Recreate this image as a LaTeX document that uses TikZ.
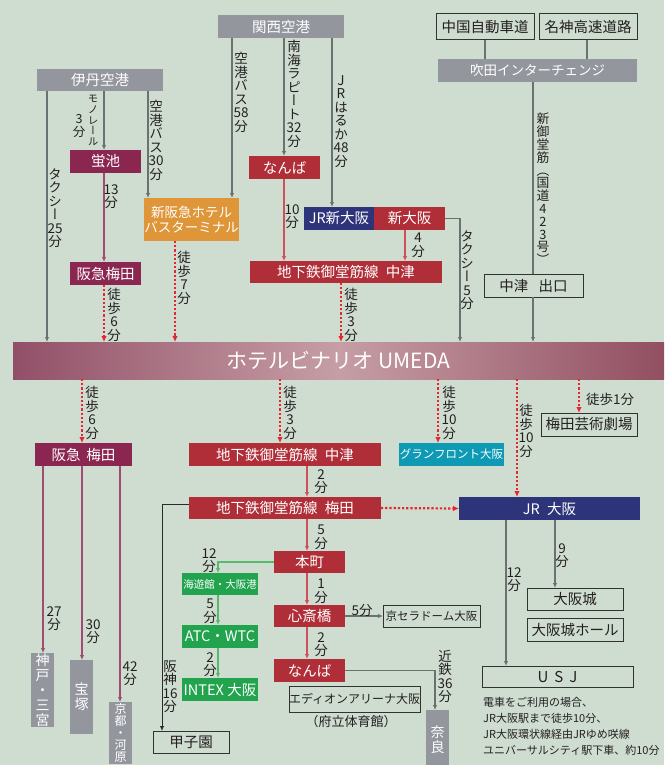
\documentclass[tikz,border=0pt]{standalone}
\usepackage{fontspec}
\setmainfont{Noto Sans CJK JP}
\newfontfamily\jp{Noto Sans CJK JP}
\newfontfamily\vjp[RawFeature=+vert]{Noto Sans CJK JP}
\usetikzlibrary{arrows.meta}
\definecolor{bgc}{RGB}{207,221,209}
\definecolor{cgray}{RGB}{148,150,158}
\definecolor{cmaroon}{RGB}{139,38,80}
\definecolor{cred}{RGB}{176,46,56}
\definecolor{cnavy}{RGB}{46,52,122}
\definecolor{corange}{RGB}{223,150,56}
\definecolor{cteal}{RGB}{14,153,181}
\definecolor{cgreen}{RGB}{34,164,78}
\definecolor{tcol}{RGB}{35,31,32}
\definecolor{ocol}{RGB}{50,50,50}
\definecolor{lgray}{RGB}{105,114,112}
\definecolor{lred}{RGB}{208,80,90}
\definecolor{lmaroon}{RGB}{160,76,112}
\definecolor{lgreen}{RGB}{90,184,110}
\definecolor{ldot}{RGB}{232,36,46}
\definecolor{bnl}{RGB}{146,80,104}
\definecolor{bnm}{RGB}{198,158,165}
\definecolor{bnr}{RGB}{146,79,98}
\newcommand\mkbox[7]{\node[#2,minimum width=#5pt,minimum height=#6pt,anchor=north west] (#1) at (#3,#4) {#7};}
\begin{document}
\begin{tikzpicture}[x=1pt,y=-1pt,
  bx/.style={inner sep=0pt,outer sep=0pt,text=white,align=center,font=\jp\fontsize{14.5}{16}\selectfont},
  gbx/.style={bx,fill=cgray},
  mbx/.style={bx,fill=cmaroon},
  rbx/.style={bx,fill=cred},
  nbx/.style={bx,fill=cnavy},
  obxo/.style={bx,fill=corange,font=\jp\fontsize{13.5}{15}\selectfont},
  tbx/.style={bx,fill=cteal,font=\jp\fontsize{11.5}{13}\selectfont},
  grbx/.style={bx,fill=cgreen},
  obx/.style={bx,fill=bgc,draw=ocol,line width=1pt,text=tcol},
  vbx/.style={font=\vjp\fontsize{14}{15}\selectfont},
  vl/.style={inner sep=0pt,anchor=north,align=center,text=tcol,font=\vjp\fontsize{13.5}{13.5}\selectfont},
  hl/.style={inner sep=0pt,text=tcol,font=\jp\fontsize{13.5}{14}\selectfont},
  tip/.style={-{Latex[length=5pt,width=4.5pt]}},
  gl/.style={draw=lgray,line width=1.3pt},
  ga/.style={gl,tip},
  ha/.style={draw=ocol!85!black,line width=1pt,tip},
  ra/.style={draw=lred,line width=1.3pt,tip},
  ma/.style={draw=lmaroon,line width=1.3pt,tip},
  gra/.style={draw=lgreen,line width=1.3pt,tip},
  da/.style={draw=ldot,line width=2.2pt,dash pattern=on 2.2pt off 2pt,-{Latex[length=6pt,width=5.5pt]}}
]
\useasboundingbox (0,0) rectangle (664,765);
\fill[bgc] (0,0) rectangle (664,765);
\begin{scope}
\clip (0,0) rectangle (664,765);
% ---------- boxes ----------
\mkbox{itami}{gbx}{37}{69}{126}{22}{伊丹空港}
\mkbox{kansai}{gbx}{218}{15}{126}{23}{関西空港}
\mkbox{chugoku}{obx}{436}{14}{98}{26}{中国自動車道}
\mkbox{meishin}{obx}{539}{14}{98}{26}{名神高速道路}
\mkbox{suita}{gbx,font=\jp\fontsize{13.5}{15}\selectfont}{438}{59}{199}{23}{吹田インターチェンジ}
\mkbox{hotaru}{mbx}{70}{150}{71}{23}{蛍池}
\mkbox{hkumedaA}{mbx}{70}{262}{71}{23}{阪急梅田}
\mkbox{shinhk}{obxo}{144}{198}{95}{43}{新阪急ホテル\\バスターミナル}
\mkbox{nambaA}{rbx}{249}{156}{71}{23}{なんば}
\mkbox{jrshin}{nbx}{304}{207}{70}{23}{JR新大阪}
\mkbox{shinosaka}{rbx}{374}{207}{71}{23}{新大阪}
\mkbox{nakatsuA}{rbx}{250}{261}{192}{22}{地下鉄御堂筋線\hspace{0.5em}中津}
\mkbox{nkexit}{obx}{484}{274}{99}{23}{中津\hspace{0.7em}出口}
\node[minimum width=651pt,minimum height=37pt,anchor=north west,inner sep=0pt,outer sep=0pt,
  left color=bnl,right color=bnr,middle color=bnm,text=white,font=\jp\fontsize{21}{24}\selectfont]
  (banner) at (13,342) {ホテルビナリオ UMEDA};
\mkbox{hkumedaB}{mbx}{35}{443}{97}{23}{阪急\hspace{0.4em}梅田}
\mkbox{nakatsuB}{rbx}{189}{443}{192}{23}{地下鉄御堂筋線\hspace{0.5em}中津}
\mkbox{grand}{tbx}{399}{443}{105}{23}{グランフロント大阪}
\mkbox{umegei}{obx}{541}{413}{96}{23}{梅田芸術劇場}
\mkbox{umeda}{rbx}{189}{497}{192}{22}{地下鉄御堂筋線\hspace{0.5em}梅田}
\mkbox{jrosaka}{nbx}{459}{497}{181}{23}{JR\hspace{0.5em}大阪}
\mkbox{kobe}{gbx,vbx}{31}{653}{23}{74}{神\\戸\\・\\三\\宮}
\mkbox{takara}{gbx,vbx}{70}{660}{23}{74}{宝\\塚}
\mkbox{kyoto}{gbx,font=\vjp\fontsize{12}{12}\selectfont}{109}{702}{23}{62}{京\\都\\・\\河\\原}
\mkbox{koshien}{obx}{153}{731}{76}{22}{甲子園}
\mkbox{kaiyukan}{grbx,font=\jp\fontsize{10.5}{12}\selectfont}{182}{573}{76}{22}{海遊館・大阪港}
\mkbox{atc}{grbx}{182}{625}{76}{23}{ATC・WTC}
\mkbox{intex}{grbx}{182}{678}{76}{23}{INTEX 大阪}
\mkbox{honmachi}{rbx}{274}{551}{71}{22}{本町}
\mkbox{shinsai}{rbx}{274}{605}{71}{22}{心斎橋}
\mkbox{kyocera}{obx,font=\jp\fontsize{11.5}{13}\selectfont}{383}{605}{97}{22}{京セラドーム大阪}
\mkbox{nambaB}{rbx}{274}{659}{71}{23}{なんば}
\mkbox{edion}{obx,font=\jp\fontsize{12}{14}\selectfont}{289}{686}{128}{26}{エディオンアリーナ大阪}
\mkbox{nara}{gbx,vbx}{426}{710}{23}{60}{奈\\良}
\mkbox{oscastle}{obx}{527}{588}{96}{22}{大阪城}
\mkbox{oshall}{obx}{527}{618}{96}{23}{大阪城ホール}
\mkbox{usj}{obx,font=\jp\fontsize{15}{16}\selectfont}{482}{666}{151}{21}{U\hspace{6pt}S\hspace{6pt}J}
\node[hl,font=\jp\fontsize{13}{14}\selectfont] (furitsu) at (351,722) {（府立体育館）};
% ---------- x positions ----------
\coordinate (xItTaxi) at (47,0);
\coordinate (xItMono) at (104,0);
\coordinate (xItBus) at (148,0);
\coordinate (xKaBus) at (232,0);
\coordinate (xKaNan) at (284,0);
\coordinate (xKaJR) at (332,0);
\coordinate (xChu) at (485,0);
\coordinate (xMei) at (587,0);
\coordinate (xSui) at (533,0);
\coordinate (xShTaxi) at (460,0);
\coordinate (xShin) at (405,0);
\coordinate (xWkBus) at (175,0);
\coordinate (xWkNk) at (341,0);
\coordinate (xDHk) at (82,0);
\coordinate (xDNk) at (280,0);
\coordinate (xDGf) at (438,0);
\coordinate (xDJr) at (517,0);
\coordinate (xDUg) at (579,0);
\coordinate (xKobe) at (43,0);
\coordinate (xKyo) at (120,0);
\coordinate (xSub) at (307,0);
\coordinate (xGrn) at (218,0);
\coordinate (xHan) at (162,0);
\coordinate (xKin) at (435,0);
\coordinate (xUsj) at (506,0);
\coordinate (xCas) at (555,0);
\coordinate (yHan) at (0,504);
% ---------- connectors (upper) ----------
\draw[ga] (itami.south -| xItTaxi) -- (banner.north -| xItTaxi);
\draw[ga] (itami.south -| xItMono) -- (hotaru.north -| xItMono);
\draw[ga] (itami.south -| xItBus) -- (shinhk.north -| xItBus);
\draw[ga] (kansai.south -| xKaBus) -- (shinhk.north -| xKaBus);
\draw[ga] (kansai.south -| xKaNan) -- (nambaA.north -| xKaNan);
\draw[ga] (kansai.south -| xKaJR) -- (jrshin.north -| xKaJR);
\draw[gl] (chugoku.south -| xChu) -- (suita.north -| xChu);
\draw[gl] (meishin.south -| xMei) -- (suita.north -| xMei);
\draw[gl] (suita.south -| xSui) -- (nkexit.north -| xSui);
\draw[ga] (nkexit.south -| xSui) -- (banner.north -| xSui);
\draw[ga] (shinosaka.east) -| (banner.north -| xShTaxi);
\draw[ma] (hotaru.south -| xItMono) -- (hkumedaA.north -| xItMono);
\draw[ra] (nambaA.south -| xKaNan) -- (nakatsuA.north -| xKaNan);
\draw[ra] (shinosaka.south -| xShin) -- (nakatsuA.north -| xShin);
\draw[da] (hkumedaA.south -| xItMono) -- (banner.north -| xItMono);
\draw[da] (shinhk.south -| xWkBus) -- (banner.north -| xWkBus);
\draw[da] (nakatsuA.south -| xWkNk) -- (banner.north -| xWkNk);
% ---------- connectors (lower) ----------
\draw[da] (banner.south -| xDHk) -- (hkumedaB.north -| xDHk);
\draw[da] (banner.south -| xDNk) -- (nakatsuB.north -| xDNk);
\draw[da] (banner.south -| xDGf) -- (grand.north -| xDGf);
\draw[da] (banner.south -| xDJr) -- (jrosaka.north -| xDJr);
\draw[da] (banner.south -| xDUg) -- (umegei.north -| xDUg);
\draw[da] (umeda.east) -- (jrosaka.west);
\draw[ma] (hkumedaB.south -| xKobe) -- (kobe.north -| xKobe);
\draw[ma] (hkumedaB.south -| xDHk) -- (takara.north -| xDHk);
\draw[ma] (hkumedaB.south -| xKyo) -- (kyoto.north -| xKyo);
\draw[ra] (nakatsuB.south -| xSub) -- (umeda.north -| xSub);
\draw[ra] (umeda.south -| xSub) -- (honmachi.north -| xSub);
\draw[ra] (honmachi.south -| xSub) -- (shinsai.north -| xSub);
\draw[ra] (shinsai.south -| xSub) -- (nambaB.north -| xSub);
\draw[gra] (honmachi.west) -| (kaiyukan.north -| xGrn);
\draw[gra] (kaiyukan.south -| xGrn) -- (atc.north -| xGrn);
\draw[gra] (atc.south -| xGrn) -- (intex.north -| xGrn);
\draw[ha] (umeda.west |- yHan) -| (koshien.north -| xHan);
\draw[ga] (shinsai.east) -- (kyocera.west);
\draw[ga] (nambaB.east) -| (nara.north -| xKin);
\draw[ga] (jrosaka.south -| xUsj) -- (usj.north -| xUsj);
\draw[ga] (jrosaka.south -| xCas) -- (oscastle.north -| xCas);
% ---------- labels ----------
\node[vl] (lTaxiA) at (55,168) {タ\\ク\\シ\\ー\\25\\分};
\node[vl,font=\vjp\fontsize{10.5}{10.8}\selectfont] (lMono) at (93,95) {モ\\ノ\\レ\\ー\\ル};
\node[vl,font=\vjp\fontsize{12.5}{13}\selectfont] (lMonoB) at (79,114) {3\\分};
\node[vl] (lBusA) at (156,100) {空\\港\\バ\\ス\\30\\分};
\node[vl] (l13) at (111,184) {13\\分};
\node[vl] (lWa) at (114,288) {徒\\歩\\6\\分};
\node[vl] (lWb) at (184,251) {徒\\歩\\7\\分};
\node[vl] (lBusB) at (241,52) {空\\港\\バ\\ス\\58\\分};
\node[vl] (lNankai) at (294,40) {南\\海\\ラ\\ピ\\ー\\ト\\32\\分};
\node[vl] (lHaruka) at (341,75) {J\\R\\は\\る\\か\\48\\分};
\node[vl] (l10) at (292,204) {10\\分};
\node[vl] (l4) at (418,233) {4\\分};
\node[vl] (lTaxiB) at (467,230) {タ\\ク\\シ\\ー\\5\\分};
\node[vl] (lWc) at (351,288) {徒\\歩\\3\\分};
\node[vl,font=\vjp\fontsize{12.8}{12.8}\selectfont] (lMido) at (543,113) {新\\御\\堂\\筋\\（\\国\\道\\4\\2\\3\\号\\）};
\node[vl] (lWd) at (92,386) {徒\\歩\\6\\分};
\node[vl] (lWe) at (290,386) {徒\\歩\\3\\分};
\node[vl] (lWf) at (449,386) {徒\\歩\\10\\分};
\node[vl] (lWg) at (526,404) {徒\\歩\\10\\分};
\node[hl] (lWh) at (610,399) {徒歩1分};
\node[vl] (l2a) at (321,469) {2\\分};
\node[vl] (l5a) at (321,525) {5\\分};
\node[vl] (l1) at (321,579) {1\\分};
\node[vl] (l2b) at (321,632) {2\\分};
\node[hl] (l5b) at (362,611) {5分};
\node[vl] (lKin) at (445,650) {近\\鉄\\36\\分};
\node[vl] (l12g) at (209,548) {12\\分};
\node[vl] (l5g) at (210,599) {5\\分};
\node[vl] (l2g) at (210,652) {2\\分};
\node[vl] (l27) at (54,606) {27\\分};
\node[vl] (l30) at (93,619) {30\\分};
\node[vl] (l42) at (130,661) {42\\分};
\node[vl] (lHan) at (170,660) {阪\\神\\16\\分};
\node[vl] (l12u) at (514,567) {12\\分};
\node[vl] (l9) at (562,543) {9\\分};
\node[anchor=north west,align=left,inner sep=0pt,text=tcol,font=\jp\fontsize{11}{16}\selectfont] (note) at (483,697)
  {電車をご利用の場合、\\JR大阪駅まで徒歩10分、\\JR大阪環状線経由JRゆめ咲線\\ユニバーサルシティ駅下車、約10分};
\end{scope}
\end{tikzpicture}
\end{document}
